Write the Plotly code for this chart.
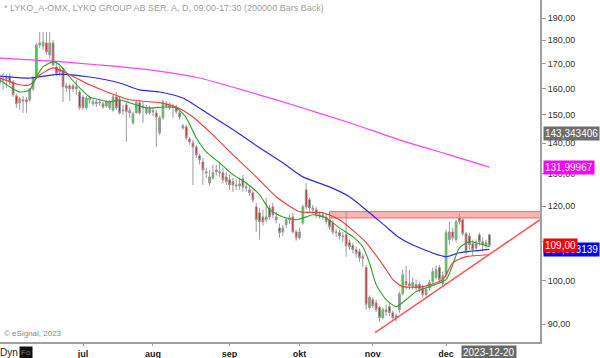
import math
import pandas as pd
import plotly.graph_objects as go

# ---------------- data ----------------
holidays = ["2023-06-06", "2023-06-23"]
dates = [d.strftime("%Y-%m-%d") for d in pd.bdate_range("2023-05-25", "2023-12-20")
         if d.strftime("%Y-%m-%d") not in holidays]

open_ = [162.1, 163.7, 164.1, 164.5, 162.5, 157.1, 154.5, 155.6, 155.6, 155.6,
         159.8, 164.5, 177.9, 177.4, 178.8, 173.6, 178.8, 168.6, 167.8, 167.4,
         161.0, 161.0, 161.0, 160.6, 158.6, 156.7, 152.6, 156.3, 154.1, 154.1,
         154.8, 154.1, 153.3, 152.6, 151.8, 156.7, 155.6, 151.8, 153.7, 151.5,
         147.1, 150.7, 154.5, 153.3, 150.7, 150.7, 151.5, 150.7, 143.5, 148.9,
         154.1, 152.6, 153.3, 152.9, 150.7, 146.0, 145.6, 141.4, 140.0, 138.7,
         135.7, 133.7, 130.5, 127.0, 128.6, 131.1, 130.5, 130.2, 128.9, 128.0,
         127.4, 126.4, 126.1, 128.3, 125.8, 124.9, 124.0, 119.8, 118.1, 116.9,
         116.1, 119.5, 119.8, 116.9, 113.8, 112.7, 114.7, 116.1, 116.9, 112.7,
         111.1, 115.2, 124.9, 121.9, 119.5, 119.0, 117.5, 117.5, 116.9, 116.1,
         115.2, 112.7, 112.5, 111.6, 111.9, 109.8, 109.0, 107.9, 107.4, 106.1,
         103.3, 93.7, 95.5, 94.8, 93.7, 91.4, 93.2, 93.9, 92.5, 91.8,
         93.2, 96.9, 99.8, 99.3, 98.6, 99.1, 99.1, 98.3, 96.7, 98.3,
         99.8, 100.8, 103.3, 99.3, 101.5, 110.6, 112.7, 110.6, 116.6, 116.1,
         112.2, 111.6, 109.5, 109.5, 111.9, 110.0, 109.0, 111.9]
high = [165.7, 166.1, 165.7, 166.1, 163.3, 157.9, 156.7, 157.1, 156.7, 160.2,
        164.9, 178.8, 183.6, 183.6, 183.6, 183.6, 180.1, 169.8, 169.0, 168.2,
        162.1, 161.8, 161.8, 163.3, 159.4, 157.5, 157.1, 157.1, 156.0, 155.6,
        156.0, 154.8, 155.6, 155.6, 157.5, 158.6, 156.7, 153.7, 154.5, 152.6,
        151.1, 155.6, 155.6, 154.8, 153.7, 153.3, 152.6, 151.8, 149.6, 155.6,
        155.2, 154.5, 154.1, 153.7, 151.5, 146.7, 146.4, 142.1, 141.1, 139.4,
        136.4, 135.0, 131.8, 131.1, 132.8, 132.8, 133.7, 131.8, 130.5, 129.6,
        128.6, 128.0, 128.6, 129.6, 127.0, 126.1, 124.9, 121.0, 119.5, 119.0,
        122.5, 120.4, 121.0, 118.4, 115.0, 114.7, 116.9, 117.5, 118.1, 113.3,
        113.8, 120.4, 127.0, 122.5, 120.4, 119.8, 118.4, 118.1, 117.8, 116.9,
        116.1, 113.6, 113.3, 112.7, 118.4, 110.6, 109.8, 108.7, 108.2, 106.9,
        104.0, 96.5, 96.0, 95.5, 94.1, 93.7, 94.4, 95.0, 93.0, 92.3,
        97.4, 102.8, 103.8, 102.8, 100.8, 100.3, 99.8, 99.1, 98.6, 100.3,
        103.3, 103.8, 104.0, 102.3, 113.3, 115.5, 113.8, 116.1, 117.8, 116.6,
        112.7, 112.5, 110.6, 110.6, 112.5, 111.1, 110.6, 112.2]
low = [161.0, 159.4, 160.2, 161.4, 156.7, 152.6, 151.8, 150.7, 150.7, 154.8,
       159.0, 163.7, 176.6, 175.7, 173.6, 172.3, 169.0, 164.9, 164.9, 154.8,
       158.6, 155.2, 158.6, 157.5, 151.8, 151.8, 151.8, 154.1, 153.3, 152.9,
       153.3, 152.2, 152.6, 151.8, 151.1, 151.8, 150.0, 150.0, 140.4, 148.9,
       146.4, 150.4, 150.0, 147.1, 150.0, 150.0, 149.6, 138.7, 142.8, 148.2,
       152.6, 151.8, 148.9, 150.4, 148.2, 144.6, 141.1, 139.4, 126.4, 135.0,
       132.8, 126.4, 128.6, 126.1, 128.0, 129.3, 128.9, 127.0, 126.4, 124.9,
       124.3, 124.9, 124.9, 124.3, 124.3, 123.1, 121.0, 112.7, 110.6, 114.4,
       115.5, 116.1, 116.6, 115.0, 111.1, 111.6, 113.8, 115.0, 112.2, 110.3,
       110.6, 114.7, 119.0, 118.4, 117.8, 116.6, 116.4, 116.1, 114.7, 113.3,
       111.9, 111.4, 110.6, 110.0, 106.1, 107.9, 106.9, 105.8, 104.8, 103.3,
       93.2, 93.2, 93.5, 92.7, 90.5, 91.0, 91.8, 91.8, 91.0, 90.5,
       92.5, 96.5, 97.9, 97.9, 97.9, 97.4, 97.2, 96.0, 96.2, 97.6,
       99.3, 100.3, 99.6, 98.6, 100.8, 109.2, 110.3, 109.8, 114.7, 111.6,
       106.6, 107.9, 106.3, 107.4, 109.0, 107.4, 108.2, 108.7]
close = [164.1, 163.3, 163.7, 162.5, 157.5, 154.1, 156.0, 155.2, 154.8, 159.8,
         164.1, 177.9, 178.8, 179.2, 174.9, 178.8, 169.4, 166.1, 166.6, 160.6,
         160.2, 159.8, 159.8, 159.8, 152.6, 152.6, 156.3, 155.6, 154.8, 154.8,
         154.5, 152.9, 154.8, 154.8, 156.7, 152.6, 150.7, 151.5, 151.1, 150.7,
         150.4, 154.5, 150.7, 152.6, 152.6, 152.2, 151.1, 149.2, 148.9, 154.8,
         153.3, 153.7, 152.9, 151.1, 149.2, 145.3, 141.8, 140.4, 138.7, 136.0,
         134.4, 131.1, 130.2, 128.9, 130.2, 130.5, 130.2, 128.0, 127.4, 126.4,
         126.4, 126.1, 126.7, 125.8, 125.5, 124.0, 121.9, 116.1, 115.5, 115.5,
         116.9, 116.9, 117.5, 116.1, 112.5, 113.8, 116.1, 116.6, 112.7, 111.1,
         112.7, 119.8, 119.8, 119.5, 119.0, 117.5, 117.2, 116.9, 115.5, 114.1,
         112.7, 112.5, 111.6, 111.4, 109.0, 108.7, 107.9, 106.9, 105.8, 105.6,
         94.4, 96.0, 94.1, 93.2, 91.4, 93.2, 92.7, 92.5, 91.4, 91.2,
         96.9, 101.5, 99.1, 98.8, 99.6, 98.3, 97.9, 96.7, 97.9, 99.6,
         102.3, 102.8, 100.3, 101.3, 112.5, 112.7, 111.1, 115.5, 115.5, 112.2,
         107.4, 109.2, 107.9, 108.4, 110.0, 109.2, 109.8, 109.0]

# moving averages, read at sample bars
ma_green_x = [0, 3, 6, 9, 11, 13, 16, 18, 21, 24, 27, 30, 33, 36, 39, 44, 50, 53, 56, 59, 62, 66, 70,
              74, 78, 81, 85, 89, 92, 94, 98, 102, 106, 109, 111, 113, 116, 119, 122, 125, 129, 134,
              136, 138, 141, 147]
ma_green_y = [163.3, 160.6, 158.6, 159.4, 164.5, 168.6, 170.7, 169.4, 164.5, 160.2, 156.7, 155.6,
              154.8, 155.6, 154.5, 152.6, 152.9, 152.6, 148.9, 141.8, 137.0, 133.4, 129.6, 127.0,
              123.4, 119.0, 116.9, 116.1, 116.9, 117.5, 116.6, 113.8, 111.4, 108.7, 104.5, 99.1,
              95.5, 93.9, 95.5, 97.4, 98.6, 100.3, 104.0, 108.4, 110.0, 108.7]
ma_red_x = [0, 6, 9, 12, 16, 20, 27, 33, 39, 48, 53, 58, 64, 71, 77, 83, 90, 97, 102, 110, 116,
            118, 121, 127, 133, 136, 140, 147]
ma_red_y = [164.1, 161.4, 161.4, 165.3, 168.2, 166.1, 161.4, 158.2, 155.6, 154.5, 152.9, 149.2,
            142.8, 135.0, 128.9, 122.8, 118.4, 118.1, 116.1, 109.8, 102.8, 100.3, 98.6, 98.6,
            100.3, 104.5, 106.1, 106.6]
ma_blue_x = [0, 9, 18, 27, 36, 42, 48, 55, 63, 71, 78, 85, 91, 99, 105, 111, 116, 120, 126, 134,
             138, 147]
ma_blue_y = [164.9, 164.1, 165.7, 164.5, 162.1, 159.4, 158.6, 156.3, 150.0, 143.9, 138.4, 133.4,
             128.9, 125.8, 122.8, 118.1, 114.1, 111.1, 108.4, 106.1, 107.1, 107.993139]
ma_mag_x = [0, 15, 30, 45, 60, 75, 90, 105, 120, 135, 147]
ma_mag_y = [172.3, 171.1, 169.4, 167.4, 164.1, 158.6, 152.9, 147.1, 141.1, 136.0, 131.99967]

# drawn objects: resistance zone and rising trend line
zone_start = "2023-10-13"
zone_lo, zone_hi = 116.6, 118.4
trend_x = [112.7, 162.2]
trend_y = [88.1, 116.1]

month_names = {7: "jul", 8: "aug", 9: "sep", 10: "okt", 11: "nov", 12: "dec"}
y_ticks = [90, 100, 110, 120, 130, 140, 150, 160, 170, 180, 190]

last_labels = [  # (value, text, bg colour)
    (143.343406, "143,343406", "#6e6e6e"),
    (131.99967, "131,99967", "#ff00ff"),
    (108.7, "108,7", "#22aa22"),
    (107.993139, "107,993139", "#0000ff"),
    (109.00, "109,00", "#ff0000"),
]

# ---------------- figure ----------------
idx = list(range(len(dates)))
month_idx, month_lbl = [], []
for i, d in enumerate(dates):
    m = int(d[5:7])
    if i > 0 and m != int(dates[i - 1][5:7]) and m in month_names:
        month_idx.append(i)
        month_lbl.append(month_names[m])

fig = go.Figure()

zx0 = dates.index(zone_start)
fig.add_trace(go.Scatter(
    x=[zx0, 170, 170, zx0, zx0], y=[zone_lo, zone_lo, zone_hi, zone_hi, zone_lo],
    fill="toself", fillcolor="rgba(245,120,120,0.55)", mode="lines",
    line=dict(color="#f06a6a", width=1), hoverinfo="skip"))

fig.add_trace(go.Scatter(x=ma_mag_x, y=ma_mag_y, mode="lines",
                         line=dict(color="#ff40ff", width=1.2, shape="spline", smoothing=0.6)))
fig.add_trace(go.Scatter(x=ma_blue_x, y=ma_blue_y, mode="lines",
                         line=dict(color="#2a2aee", width=1.2, shape="spline", smoothing=0.6)))
fig.add_trace(go.Scatter(x=ma_red_x, y=ma_red_y, mode="lines",
                         line=dict(color="#f03a3a", width=1.1, shape="spline", smoothing=0.6)))
fig.add_trace(go.Scatter(x=ma_green_x, y=ma_green_y, mode="lines",
                         line=dict(color="#2aa02a", width=1.1, shape="spline", smoothing=0.6)))

fig.add_trace(go.Candlestick(
    x=idx, open=open_, high=high, low=low, close=close,
    increasing=dict(line=dict(color="#9a9a9a", width=1), fillcolor="#1fe01f"),
    decreasing=dict(line=dict(color="#9a9a9a", width=1), fillcolor="#ee0000"),
    whiskerwidth=0, hoverinfo="skip"))

fig.add_trace(go.Scatter(x=trend_x, y=trend_y, mode="lines",
                         line=dict(color="#ff5555", width=1.5), hoverinfo="skip"))

annotations = []
for val, txt, bg in last_labels:
    annotations.append(dict(
        x=1, xref="paper", y=math.log10(val), yref="y", xanchor="left", yanchor="middle",
        text=txt, showarrow=False, bgcolor=bg, borderpad=1, xshift=3,
        font=dict(size=10, color="white", family="Liberation Sans, Arial")))

annotations.append(dict(
    x=0.003, y=1, xref="paper", yref="paper", xanchor="left", yanchor="top", yshift=-1,
    text="* LYKO_A-OMX, LYKO GROUP AB SER. A, D, 09:00-17:30 (200000 Bars Back)",
    showarrow=False, font=dict(size=9, color="#a0a0a0", family="Liberation Sans, Arial")))
annotations.append(dict(
    x=0.004, y=0.026, xref="paper", yref="paper", xanchor="left", yanchor="middle",
    text="© eSignal, 2023", showarrow=False,
    font=dict(size=8, color="#888888", family="Liberation Sans, Arial")))
annotations.append(dict(
    x=len(dates) - 1, y=0, xref="x", yref="paper",
    xanchor="center", yanchor="top", yshift=-3,
    text="2023-12-20", showarrow=False, bgcolor="#6a6a6a", borderpad=1,
    font=dict(size=10, color="white", family="Liberation Sans, Arial")))
annotations.append(dict(
    x=-0.004, y=0, xref="paper", yref="paper", xanchor="left", yanchor="top", yshift=-3,
    text="Dyn", showarrow=False, font=dict(size=10, color="#222", family="Liberation Sans, Arial")))
annotations.append(dict(
    x=0.048, y=0, xref="paper", yref="paper", xanchor="center", yanchor="top", yshift=-4,
    text="Fo", showarrow=False, bgcolor="#111111", borderpad=1,
    font=dict(size=8, color="#777", family="Liberation Sans, Arial")))

fig.update_layout(
    width=600, height=358,
    margin=dict(l=0, r=60, t=0, b=16),
    paper_bgcolor="white", plot_bgcolor="white",
    showlegend=False, boxgap=0.25,
    font=dict(family="Liberation Sans, Arial", size=9),
    annotations=annotations,
    xaxis=dict(
        range=[0.075, 162.2], tickmode="array", tickvals=month_idx, ticktext=month_lbl,
        showline=True, linecolor="#a0a0a0", linewidth=2, ticks="outside", ticklen=2,
        tickcolor="#a0a0a0", showgrid=False, zeroline=False, rangeslider=dict(visible=False),
        tickfont=dict(size=9, color="#222", weight="bold"), automargin=False, fixedrange=True),
    yaxis=dict(
        type="log", range=[1.93515, 2.29784], side="right",
        tickmode="array", tickvals=y_ticks, ticktext=[f"{v},00" for v in y_ticks],
        showline=True, linecolor="#a0a0a0", linewidth=2, ticks="outside", ticklen=4,
        tickcolor="#a0a0a0", showgrid=False, zeroline=False,
        tickfont=dict(size=9, color="#333"), automargin=False, fixedrange=True),
)

fig.write_html("out.html", config={"displayModeBar": False},
               post_script="document.body.style.margin='0';document.body.style.overflow='hidden';")
